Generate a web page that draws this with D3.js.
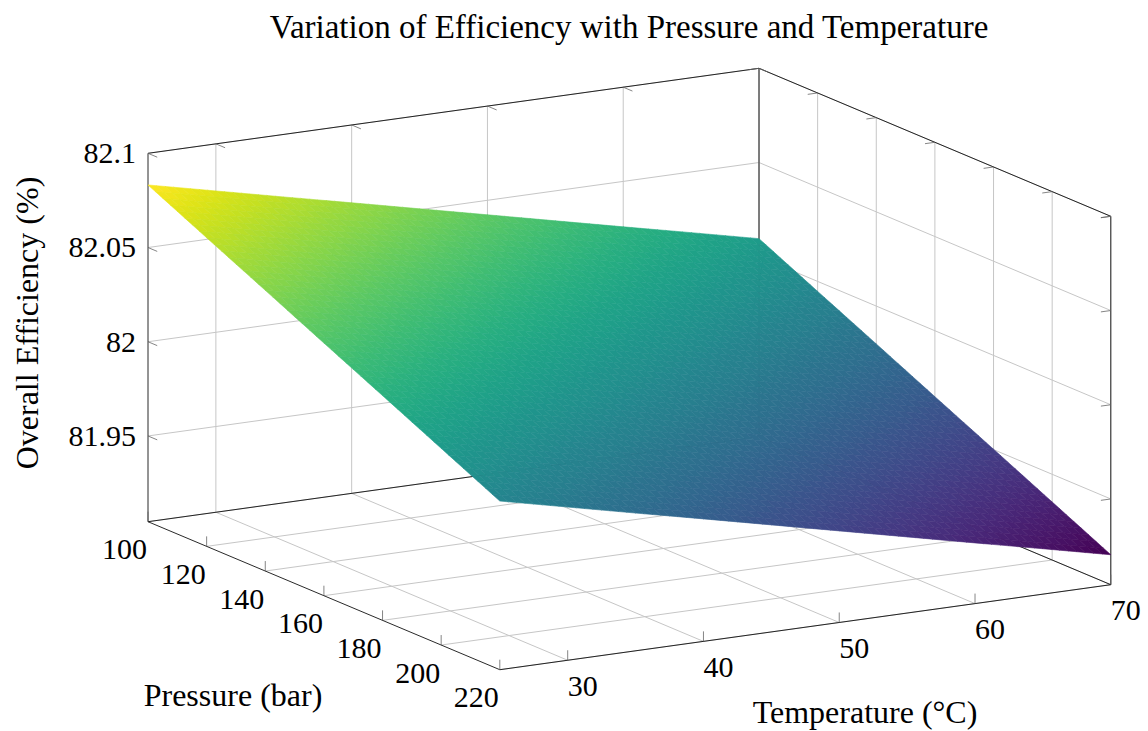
<!DOCTYPE html>
<html>
<head>
<meta charset="utf-8">
<script src="https://cdn.jsdelivr.net/npm/d3@7"></script>
<style>
  body { margin: 0; background: #fff; }
  text { font-family: "Liberation Serif", "Times New Roman", serif; fill: #000; }
</style>
</head>
<body>
<div id="plot"></div>
<script>
// Grid of the surface: temperature (x), pressure (y), efficiency (z)
var temperatures = [25, 30, 35, 40, 45, 50, 55, 60, 65, 70];
var pressures = [100, 120, 140, 160, 180, 200, 220];

// one row per pressure, one value per temperature
var eff100 = [82.0832, 82.0750, 82.0668, 82.0587, 82.0505, 82.0423, 82.0341, 82.0259, 82.0178, 82.0096];
var eff120 = [82.0683, 82.0601, 82.0519, 82.0438, 82.0356, 82.0274, 82.0192, 82.0110, 82.0029, 81.9947];
var eff140 = [82.0535, 82.0453, 82.0371, 82.0290, 82.0208, 82.0126, 82.0044, 81.9962, 81.9881, 81.9799];
var eff160 = [82.0386, 82.0304, 82.0222, 82.0141, 82.0059, 81.9977, 81.9895, 81.9813, 81.9732, 81.9650];
var eff180 = [82.0238, 82.0156, 82.0074, 81.9993, 81.9911, 81.9829, 81.9747, 81.9665, 81.9584, 81.9502];
var eff200 = [82.0089, 82.0007, 81.9925, 81.9844, 81.9762, 81.9680, 81.9598, 81.9516, 81.9435, 81.9353];
var eff220 = [81.9940, 81.9858, 81.9776, 81.9695, 81.9613, 81.9531, 81.9449, 81.9367, 81.9286, 81.9204];
var efficiency = [eff100, eff120, eff140, eff160, eff180, eff200, eff220];

// ticks
var tempTicks = [30, 40, 50, 60, 70];
var pressureTicks = [100, 120, 140, 160, 180, 200, 220];
var effTicks = [81.95, 82, 82.05, 82.1];
var effTickLabels = ["81.95", "82", "82.05", "82.1"];

var svgWidth = 1148;
var svgHeight = 731;

var svg = d3.select("#plot")
  .append("svg")
  .attr("width", svgWidth)
  .attr("height", svgHeight);

// Axis limits
var tMin = 25, tMax = 70;
var pMin = 100, pMax = 220;
var zMin = 81.9045, zMax = 82.1;

// Projection of the box: origin is (tMin, pMin, zMin) on screen
var origin = [148, 521.7];
var ex = [611, -85];     // full temperature span
var ey = [351.8, 148];   // full pressure span
var ez = [0, -368.4];    // full efficiency span

var xScale = d3.scaleLinear().domain([tMin, tMax]).range([0, 1]);
var yScale = d3.scaleLinear().domain([pMin, pMax]).range([0, 1]);
var zScale = d3.scaleLinear().domain([zMin, zMax]).range([0, 1]);

function project(t, p, z) {
  var a = xScale(t), b = yScale(p), c = zScale(z);
  return [origin[0] + a * ex[0] + b * ey[0] + c * ez[0],
          origin[1] + a * ex[1] + b * ey[1] + c * ez[1]];
}

function unit(v) {
  var l = Math.hypot(v[0], v[1]);
  return [v[0] / l, v[1] / l];
}

var gridColor = "#c6c6c6";
var boxColor = "#111";
var tickLen = 10;
var serif = "'Liberation Serif', 'Times New Roman', serif";

var gridGroup = svg.append("g");
var line = d3.line();

function seg(g, a, b, color, w) {
  g.append("path")
    .attr("d", line([a, b]))
    .attr("stroke", color)
    .attr("stroke-width", w)
    .attr("fill", "none");
}

// Back wall (pressure = pMin): temperature verticals and efficiency horizontals
tempTicks.forEach(function (t) {
  seg(gridGroup, project(t, pMin, zMin), project(t, pMin, zMax), gridColor, 1);
});
effTicks.forEach(function (z) {
  seg(gridGroup, project(tMin, pMin, z), project(tMax, pMin, z), gridColor, 1);
});

// Side wall (temperature = tMax): pressure verticals and efficiency horizontals
pressureTicks.forEach(function (p) {
  seg(gridGroup, project(tMax, p, zMin), project(tMax, p, zMax), gridColor, 1);
});
effTicks.forEach(function (z) {
  seg(gridGroup, project(tMax, pMin, z), project(tMax, pMax, z), gridColor, 1);
});

// Floor
tempTicks.forEach(function (t) {
  seg(gridGroup, project(t, pMin, zMin), project(t, pMax, zMin), gridColor, 1);
});
pressureTicks.forEach(function (p) {
  seg(gridGroup, project(tMin, p, zMin), project(tMax, p, zMin), gridColor, 1);
});

// Back edges of the box
var boxGroup = svg.append("g");
seg(boxGroup, project(tMin, pMin, zMin), project(tMin, pMin, zMax), boxColor, 0.9);
seg(boxGroup, project(tMax, pMin, zMin), project(tMax, pMin, zMax), boxColor, 0.9);
seg(boxGroup, project(tMax, pMax, zMin), project(tMax, pMax, zMax), boxColor, 0.9);
seg(boxGroup, project(tMin, pMin, zMax), project(tMax, pMin, zMax), boxColor, 0.9);
seg(boxGroup, project(tMax, pMin, zMax), project(tMax, pMax, zMax), boxColor, 0.9);
seg(boxGroup, project(tMin, pMin, zMin), project(tMax, pMin, zMin), boxColor, 0.9);
seg(boxGroup, project(tMax, pMin, zMin), project(tMax, pMax, zMin), boxColor, 0.9);

// Inner tick marks on the back edges
var dirY = unit(ey), dirX = unit(ex);
effTicks.forEach(function (z) {
  var a = project(tMin, pMin, z);
  seg(boxGroup, a, [a[0] + dirY[0] * tickLen, a[1] + dirY[1] * tickLen], "#666", 0.8);
  var b = project(tMax, pMax, z);
  seg(boxGroup, b, [b[0] - dirX[0] * tickLen, b[1] - dirX[1] * tickLen], "#666", 0.8);
});
tempTicks.forEach(function (t) {
  var a = project(t, pMin, zMax);
  seg(boxGroup, a, [a[0] + dirY[0] * tickLen, a[1] + dirY[1] * tickLen], "#666", 0.8);
});
pressureTicks.forEach(function (p) {
  var a = project(tMax, p, zMax);
  seg(boxGroup, a, [a[0] - dirX[0] * tickLen, a[1] - dirX[1] * tickLen], "#666", 0.8);
});

// Surface, colored with viridis; cells are split so the shading looks smooth
var allValues = d3.merge(efficiency);
var color = d3.scaleSequential(d3.interpolateViridis)
  .domain([d3.min(allValues), d3.max(allValues)]);

var surfGroup = svg.append("g");
var sub = 8;
for (var j = 0; j < pressures.length - 1; j++) {
  for (var i = 0; i < temperatures.length - 1; i++) {
    var z00 = efficiency[j][i], z10 = efficiency[j][i + 1];
    var z01 = efficiency[j + 1][i], z11 = efficiency[j + 1][i + 1];
    var t0 = temperatures[i], t1 = temperatures[i + 1];
    var p0 = pressures[j], p1 = pressures[j + 1];
    for (var b = 0; b < sub; b++) {
      for (var a = 0; a < sub; a++) {
        var pts = [[a, b], [a + 1, b], [a + 1, b + 1], [a, b + 1]].map(function (q) {
          var u = q[0] / sub, v = q[1] / sub;
          var z = z00 * (1 - u) * (1 - v) + z10 * u * (1 - v) + z01 * (1 - u) * v + z11 * u * v;
          return project(t0 + (t1 - t0) * u, p0 + (p1 - p0) * v, z);
        });
        var uc = (a + 0.5) / sub, vc = (b + 0.5) / sub;
        var zc = z00 * (1 - uc) * (1 - vc) + z10 * uc * (1 - vc) + z01 * (1 - uc) * vc + z11 * uc * vc;
        surfGroup.append("path")
          .attr("d", line(pts) + "Z")
          .attr("fill", color(zc))
          .attr("stroke", color(zc))
          .attr("stroke-width", 0.6);
      }
    }
  }
}

// Front bottom axes
var axisGroup = svg.append("g");
seg(axisGroup, project(tMin, pMin, zMin), project(tMin, pMax, zMin), boxColor, 0.9);
seg(axisGroup, project(tMin, pMax, zMin), project(tMax, pMax, zMin), boxColor, 0.9);

var tickFont = 30;
var labelFont = 32;

// Pressure ticks and labels
pressureTicks.forEach(function (p) {
  var a = project(tMin, p, zMin);
  seg(axisGroup, a, [a[0], a[1] - tickLen], "#666", 0.8);
  axisGroup.append("text")
    .attr("x", a[0] - 1)
    .attr("y", a[1] + 27)
    .attr("dy", "0.35em")
    .attr("text-anchor", "end")
    .style("font-family", serif)
    .style("font-size", tickFont + "px")
    .text(p);
});

// Temperature ticks and labels
tempTicks.forEach(function (t) {
  var a = project(t, pMax, zMin);
  seg(axisGroup, a, [a[0], a[1] - tickLen], "#666", 0.8);
  axisGroup.append("text")
    .attr("x", a[0])
    .attr("y", a[1] + 25)
    .attr("dy", "0.35em")
    .attr("text-anchor", "start")
    .style("font-family", serif)
    .style("font-size", tickFont + "px")
    .text(t);
});

// Efficiency labels
effTicks.forEach(function (z, k) {
  var a = project(tMin, pMin, z);
  axisGroup.append("text")
    .attr("x", a[0] - 12)
    .attr("y", a[1])
    .attr("dy", "0.33em")
    .attr("text-anchor", "end")
    .style("font-family", serif)
    .style("font-size", tickFont + "px")
    .text(effTickLabels[k]);
});

// Axis titles
svg.append("text")
  .attr("x", 629)
  .attr("y", 38)
  .attr("text-anchor", "middle")
  .style("font-family", serif)
  .style("font-size", "33px")
  .text("Variation of Efficiency with Pressure and Temperature");

svg.append("text")
  .attr("x", 233)
  .attr("y", 706)
  .attr("text-anchor", "middle")
  .style("font-family", serif)
  .style("font-size", labelFont + "px")
  .text("Pressure (bar)");

svg.append("text")
  .attr("x", 865)
  .attr("y", 723)
  .attr("text-anchor", "middle")
  .style("font-family", serif)
  .style("font-size", labelFont + "px")
  .text("Temperature (°C)");

svg.append("text")
  .attr("transform", "translate(38, 323) rotate(-90)")
  .attr("text-anchor", "middle")
  .style("font-family", serif)
  .style("font-size", labelFont + "px")
  .text("Overall Efficiency (%)");
</script>
</body>
</html>
